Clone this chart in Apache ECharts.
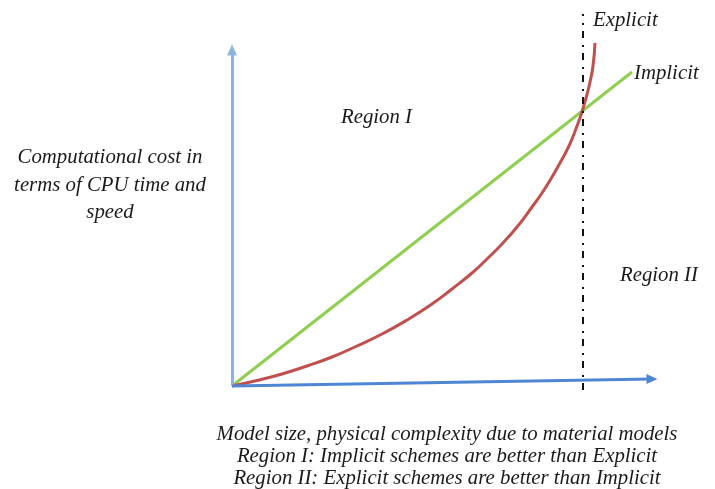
<!DOCTYPE html>
<html>
<head>
<meta charset="utf-8">
<script src="https://cdn.jsdelivr.net/npm/echarts@6/dist/echarts.min.js"></script>
<style>
  html, body { margin: 0; padding: 0; background: #fff; }
  #chart { width: 715px; height: 489px; }
</style>
</head>
<body>
<div id="chart"></div>
<script>
// units: pixels from the origin of the sketch (x to the right, y upwards)
const implicitPts = [[0, 0], [400, 314]];
const explicitX = [0, 25, 50, 75, 100, 125, 150, 175, 200, 220, 240, 255, 270, 285, 300,
  310, 320, 328, 335, 340, 345, 349, 352, 355, 358, 361, 363];
const explicitY = [0, 5.5, 12, 20, 29, 40, 52, 66, 82, 97, 113, 127, 142, 159, 179,
  193, 209, 223, 236, 247, 260, 271, 281, 291.5, 304, 320, 343];
const cutoffX = 351;
const cutoffSpan = [-4, 372];
const xArrow = [[0, 0], [420, 7]];
const yArrow = [[0, 0], [0, 336]];

const yTitle = ['Computational cost in', 'terms of CPU time and', 'speed'];
const xTitle = [
  'Model size, physical complexity due to material models',
  'Region I: Implicit schemes are better than Explicit',
  'Region II: Explicit schemes are better than Implicit'
];

const font = '"Liberation Serif", "DejaVu Serif", serif';
const txt = (x, y, s, align) => ({
  type: 'text', x: x, y: y,
  style: { text: s, fill: '#1a1a1a', font: 'italic 20.8px ' + font, textAlign: align || 'left', textVerticalAlign: 'middle' }
});

const chart = echarts.init(document.getElementById('chart'));
chart.setOption({
  animation: false,
  grid: { left: 0, right: 0, top: 0, bottom: 0 },
  xAxis: { type: 'value', min: -232, max: 483, show: false },
  yAxis: { type: 'value', min: -103, max: 386, show: false },
  series: [
    {
      type: 'line', data: [], silent: true,
      markLine: {
        silent: true, symbol: ['none', 'triangle'], symbolSize: [10, 11],
        label: { show: false },
        data: [
          [{ coord: yArrow[0], lineStyle: { color: '#8db3e2', width: 3, type: 'solid' } }, { coord: yArrow[1] }],
          [{ coord: xArrow[0], lineStyle: { color: '#4f86d3', width: 3, type: 'solid' } }, { coord: xArrow[1] }]
        ]
      }
    },
    {
      name: 'Implicit', type: 'line', data: implicitPts, showSymbol: false,
      lineStyle: { color: '#8fcf4f', width: 3 }
    },
    {
      name: 'Explicit', type: 'line', showSymbol: false, smooth: 0.5,
      data: explicitX.map((x, i) => [x, explicitY[i]]),
      lineStyle: { color: '#c0504d', width: 3 }
    },
    {
      type: 'line', data: cutoffSpan.map(v => [cutoffX, v]), showSymbol: false, z: 5,
      lineStyle: { color: '#111', width: 2, type: [7, 6, 2, 7] }
    }
  ],
  graphic: [
    txt(593, 21, 'Explicit'),
    txt(634, 74, 'Implicit'),
    txt(341, 118, 'Region I'),
    txt(620, 276, 'Region II')
  ].concat(
    yTitle.map((s, i) => txt(110, 158 + i * 27.5, s, 'center')),
    xTitle.map((s, i) => txt(447, 435 + i * 22, s, 'center'))
  )
});
</script>
</body>
</html>
